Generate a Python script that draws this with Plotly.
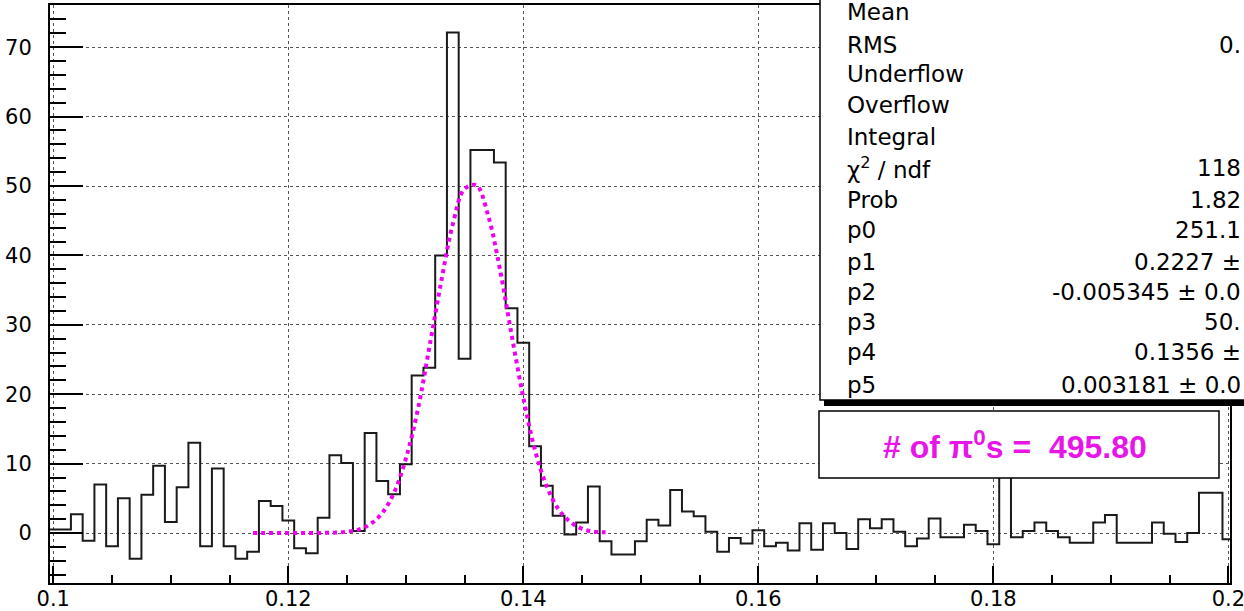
import numpy as np
import plotly.graph_objects as go

# ---------------- data ----------------
bin_lo = 0.0995          # lower edge of first bin
bin_width = 0.001        # bin width
counts = [
    0.5, 0.5, 2.7, -1.1, 7.0, -1.9, 5.0, -3.7, 5.5, 9.7,          # 0.100 - 0.109
    1.6, 6.6, 13.0, -1.9, 9.3, -1.9, -3.7, -2.7, 4.6, 3.9,        # 0.110 - 0.119
    1.8, -2.2, -2.9, 2.2, 11.2, 10.1, 0.3, 14.4, 7.5, 5.6,        # 0.120 - 0.129
    9.9, 22.7, 23.8, 40.0, 72.1, 25.1, 55.2, 55.2, 53.4, 32.4,    # 0.130 - 0.139
    27.4, 12.5, 6.8, 2.5, -0.2, 1.5, 6.7, -1.2, -3.1, -3.1,       # 0.140 - 0.149
    -1.2, 1.9, 1.1, 6.2, 3.1, 2.4, 0.2, -2.7, -0.7, -1.5,         # 0.150 - 0.159
    0.4, -1.9, -1.4, -2.5, 1.4, -2.4, 1.4, 0.0, -2.3, 2.0,        # 0.160 - 0.169
    0.7, 2.0, 0.2, -1.9, -0.8, 2.1, -0.6, -0.6, 1.2, 0.3,         # 0.170 - 0.179
    -1.6, 12.0, -0.6, 0.3, 1.5, 0.3, -0.6, -1.4, -1.4, 1.5,       # 0.180 - 0.189
    2.6, -1.4, -1.4, -1.4, 1.5, -0.1, -1.3, 0.0, 5.8, 5.8,        # 0.190 - 0.199
    -0.9,                                                         # 0.200
]

fit_x = [0.117, 0.118, 0.119, 0.120, 0.121, 0.122, 0.123, 0.124, 0.125, 0.126,
         0.127, 0.128, 0.129, 0.130, 0.131, 0.132, 0.133, 0.134, 0.135, 0.136,
         0.137, 0.138, 0.139, 0.140, 0.141, 0.142, 0.143, 0.144, 0.145, 0.146,
         0.147]
fit_y = [0.0, 0.0, 0.0, 0.0, 0.0, 0.0, 0.02, 0.06, 0.2, 0.5,
         1.3, 2.9, 5.8, 10.7, 17.6, 26.7, 36.1, 44.5, 49.6, 50.1,
         45.8, 38.1, 28.6, 19.5, 11.9, 6.7, 3.4, 1.6, 0.6, 0.2,
         0.1]

# stats box (the box runs off the right edge of the picture; only the
# visible parts of the values are kept)
stat_labels = ["Mean", "RMS", "Underflow", "Overflow", "Integral",
               "\u03c7<sup>2</sup> / ndf", "Prob", "p0", "p1", "p2", "p3", "p4", "p5"]
stat_values = ["", "0.", "", "", "", "118", "1.82", "251.1", "0.2227 \u00b1",
               "-0.005345 \u00b1 0.0", "50.", "0.1356 \u00b1", "0.003181 \u00b1 0.0"]
pi0_text = "# of \u03c0<sup>0</sup>s = \u00a0495.80"

# ---------------- layout geometry (pixels) ----------------
W, H = 1244, 611
L, R, T, B = 50, 14, 5, 28
PW, PH = W - L - R, H - T - B


def px(x):
    return (x - L) / PW


def py(y):
    return (H - B - y) / PH


stat_row_y = [12, 45, 74, 105, 137, 168, 200, 230, 262, 292, 322, 352, 385]
stat_val_right = 1243

# ---------------- traces ----------------
n = len(counts)
edges = bin_lo + bin_width * np.arange(n + 1)
steps = list(counts) + [counts[-1]]

fig = go.Figure()
fig.add_trace(go.Scatter(
    x=edges, y=steps, mode="lines", line=dict(shape="hv", color="#1a1a1a", width=2),
    showlegend=False, hoverinfo="skip"))
fig.add_trace(go.Scatter(
    x=fit_x, y=fit_y, mode="lines",
    line=dict(shape="spline", color="#f000f0", width=4, dash="dot"),
    showlegend=False, hoverinfo="skip"))

tickfont = dict(family="DejaVu Sans, sans-serif", size=21, color="black")

fig.update_layout(
    width=W, height=H,
    margin=dict(l=L, r=R, t=T, b=B, pad=0, autoexpand=False),
    paper_bgcolor="white", plot_bgcolor="white",
    xaxis=dict(
        range=[0.09972, 0.20014], tick0=0.1, dtick=0.02, automargin=False,
        ticks="inside", ticklen=17, tickwidth=2, tickcolor="black",
        showline=True, linewidth=2, linecolor="black", mirror=True,
        showgrid=True, gridcolor="#555555", griddash="dot", gridwidth=1,
        zeroline=False, tickfont=tickfont, ticklabelstandoff=-4,
        ticklabeloverflow="allow",
        minor=dict(dtick=0.005, tick0=0.1, ticks="inside", ticklen=8,
                   tickwidth=1.5, tickcolor="black", showgrid=False),
    ),
    yaxis=dict(
        range=[-7.2, 76.08], tick0=0, dtick=10, automargin=False,
        ticks="inside", ticklen=33, tickwidth=2, tickcolor="black",
        showline=True, linewidth=2, linecolor="black", mirror=True,
        showgrid=True, gridcolor="#555555", griddash="dot", gridwidth=1,
        zeroline=False, tickfont=tickfont, ticklabelstandoff=12,
        ticklabeloverflow="allow",
        minor=dict(dtick=2, tick0=0, ticks="inside", ticklen=16,
                   tickwidth=1.5, tickcolor="black", showgrid=False),
    ),
)

shapes = [
    # stats box shadow
    dict(type="rect", xref="paper", yref="paper", layer="above",
         x0=px(824), x1=px(1270), y0=py(406), y1=py(399),
         fillcolor="black", line=dict(width=0)),
    # stats box
    dict(type="rect", xref="paper", yref="paper", layer="above",
         x0=px(820), x1=px(1270), y0=py(400), y1=py(-20),
         fillcolor="white", line=dict(color="black", width=1.5)),
    # pi0 box
    dict(type="rect", xref="paper", yref="paper", layer="above",
         x0=px(819), x1=px(1219), y0=py(478), y1=py(411),
         fillcolor="white", line=dict(color="black", width=1.5)),
]
fig.update_layout(shapes=shapes)

statfont = dict(family="DejaVu Sans, sans-serif", size=23, color="black")
ann = []
for lab, val, yy in zip(stat_labels, stat_values, stat_row_y):
    ann.append(dict(xref="paper", yref="paper", x=px(845), y=py(yy), text=lab,
                    xanchor="left", yanchor="middle", showarrow=False, font=statfont))
    if val:
        ann.append(dict(xref="paper", yref="paper", x=px(stat_val_right), y=py(yy), text=val,
                        xanchor="right", yanchor="middle", showarrow=False, font=statfont))
ann.append(dict(xref="paper", yref="paper", x=px(1015), y=py(445), text="<b>" + pi0_text + "</b>",
                xanchor="center", yanchor="middle", showarrow=False,
                font=dict(family="Liberation Sans, Arial, sans-serif", size=32, color="#e815e8")))
fig.update_layout(annotations=ann)

fig.write_html("out.html", config={"displayModeBar": False},
               post_script="document.body.style.margin='0';document.body.style.overflow='hidden';")
